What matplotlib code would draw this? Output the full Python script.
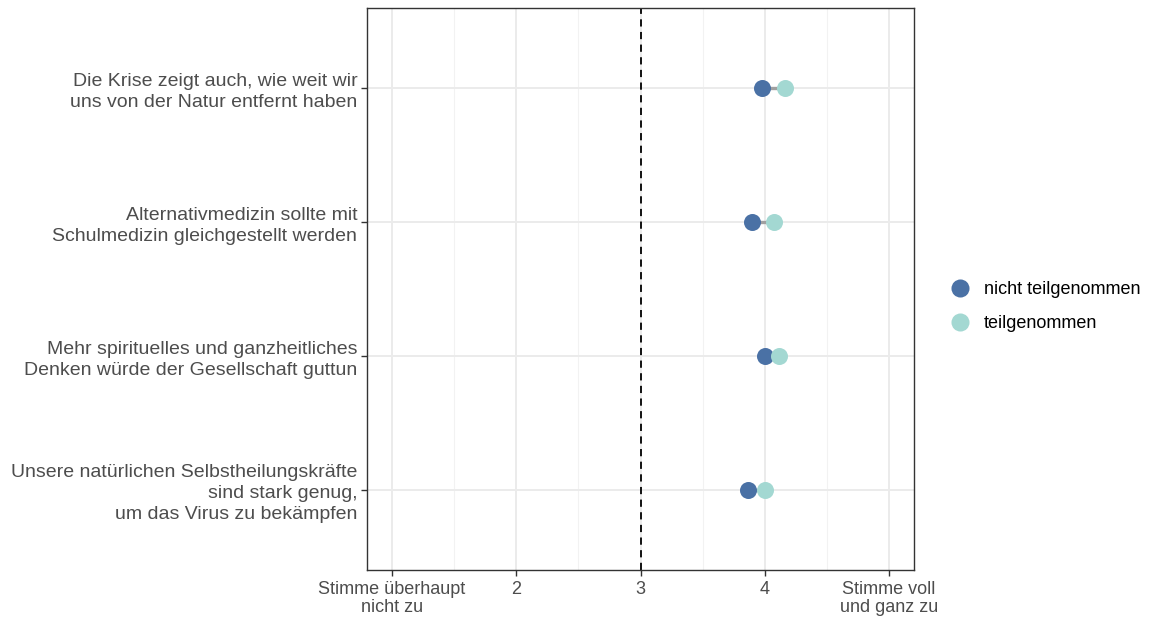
import matplotlib.pyplot as plt
from matplotlib.lines import Line2D

plt.rcParams['font.family'] = ['Liberation Sans', 'DejaVu Sans']

items = [
    "Die Krise zeigt auch, wie weit wir\nuns von der Natur entfernt haben",
    "Alternativmedizin sollte mit\nSchulmedizin gleichgestellt werden",
    "Mehr spirituelles und ganzheitliches\nDenken würde der Gesellschaft guttun",
    "Unsere natürlichen Selbstheilungskräfte\nsind stark genug,\num das Virus zu bekämpfen",
]
nicht_teil = [3.98, 3.90, 4.00, 3.865]
teil = [4.165, 4.07, 4.11, 4.00]
groups = ["nicht teilgenommen", "teilgenommen"]
colors = ["#4a71a5", "#a3d8d2"]
xticks = [1, 2, 3, 4, 5]
xlabels = ["Stimme überhaupt\nnicht zu", "2", "3", "4", "Stimme voll\nund ganz zu"]

fig = plt.figure(figsize=(11.49, 6.2), dpi=100)
ax = fig.add_axes([0.3194, 0.0806, 0.4761, 0.9064])

ypos = list(range(1, len(items) + 1))

ax.set_xlim(0.8, 5.2)
ax.set_ylim(len(items) + 0.6, 0.4)

for x in [1.5, 2.5, 3.5, 4.5]:
    ax.axvline(x, color="#f2f2f2", lw=0.8, zorder=0)
for x in xticks:
    ax.axvline(x, color="#ebebeb", lw=1.4, zorder=0)
for y in ypos:
    ax.axhline(y, color="#ebebeb", lw=1.4, zorder=0)

ax.axvline(3, color="black", lw=1.3, ls=(0, (4, 3)), zorder=1)

for y, a, b in zip(ypos, nicht_teil, teil):
    ax.plot([a, b], [y, y], color="#a0a0a0", lw=2.4, zorder=2, solid_capstyle="butt")

ax.scatter(nicht_teil, ypos, s=150, color=colors[0], zorder=3, linewidths=0)
ax.scatter(teil, ypos, s=150, color=colors[1], zorder=3, linewidths=0)

ax.set_xticks(xticks)
ax.set_xticklabels(xlabels, fontsize=13, linespacing=1.08)
ax.set_yticks(ypos)
ax.set_yticklabels(items, ha="right", multialignment="right", fontsize=14, linespacing=1.3)
ax.tick_params(axis="both", colors="#333333", labelcolor="#4d4d4d",
               length=4, width=1)
ax.tick_params(axis="x", pad=4)
ax.tick_params(axis="y", pad=3)
for s in ax.spines.values():
    s.set_color("#333333")
    s.set_linewidth(1.0)

handles = [Line2D([0], [0], marker="o", ls="", markersize=13, color=c, markeredgewidth=0)
           for c in colors]
fig.legend(handles, groups, loc="center left", bbox_to_anchor=(0.818, 0.505),
           frameon=False, fontsize=13, handletextpad=0.75, labelspacing=0.95,
           handlelength=1.2, labelcolor="black", borderpad=0)

fig.savefig("out.png", dpi=100)
